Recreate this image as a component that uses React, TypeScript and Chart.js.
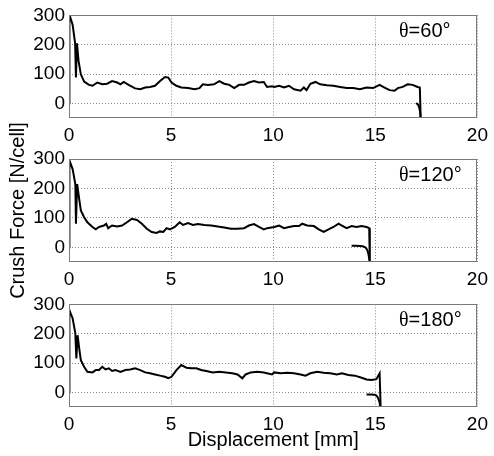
import React, { useEffect, useRef } from "react";
import { Chart, registerables } from "chart.js";

Chart.register(...registerables);

// ---------- data ----------
const xTicks = [0, 5, 10, 15, 20];
const yTicks = [0, 100, 200, 300];
const panelLabels = ["θ=60°", "θ=120°", "θ=180°"];

const p1X = [0, 0.02, 0.05, 0.18, 0.3, 0.34, 0.39, 0.47, 0.58, 0.74, 0.98, 1.15, 1.39, 1.63, 1.87, 2.11, 2.36, 2.52, 2.68, 2.92, 3.24, 3.49, 3.73, 3.97, 4.21, 4.46, 4.7, 4.86, 5.02, 5.26, 5.5, 5.83, 6.15, 6.39, 6.55, 6.8, 7.1, 7.36, 7.6, 7.85, 8.09, 8.33, 8.57, 8.81, 9.06, 9.3, 9.54, 9.7, 9.94, 10.05, 10.29, 10.53, 10.77, 11.02, 11.34, 11.5, 11.63, 11.82, 12.07, 12.3, 12.63, 12.95, 13.28, 13.6, 13.92, 14.24, 14.57, 14.89, 15.21, 15.45, 15.7, 15.94, 16.1, 16.34, 16.58, 16.83, 17.07, 17.18, 17.22];
const p1Y = [0, 280, 296, 267, 205, 88, 205, 144, 99, 74, 63, 60, 71, 65, 67, 76, 71, 65, 73, 63, 51, 48, 54, 56, 60, 76, 90, 88, 71, 60, 54, 52, 48, 52, 65, 63, 65, 76, 67, 63, 52, 63, 63, 71, 76, 71, 73, 56, 58, 56, 60, 54, 60, 48, 43, 54, 45, 67, 73, 65, 62, 60, 56, 52, 52, 48, 54, 52, 63, 54, 45, 43, 52, 56, 65, 63, 56, 54, -50];
const p1HookX = [17.0, 17.1, 17.18, 17.22];
const p1HookY = [1, -5, -25, -50];

const p2X = [0, 0.02, 0.05, 0.18, 0.31, 0.34, 0.4, 0.5, 0.58, 0.74, 0.9, 1.15, 1.31, 1.47, 1.71, 1.82, 1.92, 2.11, 2.36, 2.6, 2.84, 3.08, 3.33, 3.57, 3.81, 4.05, 4.29, 4.45, 4.62, 4.78, 4.94, 5.18, 5.42, 5.58, 5.83, 6.07, 6.31, 6.63, 6.96, 7.28, 7.6, 7.93, 8.25, 8.57, 8.81, 9.06, 9.3, 9.54, 9.7, 10.05, 10.29, 10.53, 10.77, 11.02, 11.26, 11.42, 11.66, 11.99, 12.23, 12.47, 12.71, 12.95, 13.2, 13.36, 13.6, 13.84, 14.08, 14.32, 14.57, 14.7, 14.73];
const p2Y = [0, 280, 290, 265, 215, 80, 215, 164, 125, 102, 85, 69, 61, 69, 74, 80, 65, 74, 71, 74, 85, 97, 93, 80, 63, 52, 49, 54, 52, 65, 61, 69, 85, 76, 82, 76, 79, 76, 74, 71, 67, 63, 63, 65, 74, 79, 69, 61, 65, 69, 74, 65, 69, 72, 72, 80, 74, 72, 61, 52, 61, 69, 80, 74, 65, 72, 69, 72, 69, 65, -50];
const p2HookX = [13.84, 14.3, 14.5, 14.62, 14.68, 14.72];
const p2HookY = [5, 4, 0, -12, -30, -50];

const p3X = [0, 0.02, 0.05, 0.18, 0.31, 0.36, 0.42, 0.5, 0.58, 0.74, 0.9, 1.15, 1.31, 1.47, 1.63, 1.79, 1.95, 2.11, 2.28, 2.52, 2.76, 3.0, 3.24, 3.49, 3.73, 3.97, 4.21, 4.46, 4.7, 4.86, 5.02, 5.26, 5.5, 5.75, 5.99, 6.23, 6.47, 6.72, 7.04, 7.36, 7.68, 8.0, 8.25, 8.49, 8.65, 8.9, 9.22, 9.54, 9.94, 10.05, 10.37, 10.69, 11.02, 11.34, 11.58, 11.82, 12.15, 12.47, 12.79, 13.12, 13.36, 13.68, 14.0, 14.33, 14.57, 14.81, 15.05, 15.21, 15.26];
const p3Y = [0, 265, 275, 252, 201, 116, 195, 150, 110, 87, 70, 68, 76, 76, 87, 78, 82, 73, 76, 70, 76, 78, 82, 76, 68, 65, 61, 57, 53, 48, 53, 76, 93, 84, 82, 82, 76, 73, 68, 70, 68, 65, 61, 48, 61, 68, 70, 68, 61, 68, 65, 67, 65, 61, 57, 65, 70, 67, 65, 61, 65, 59, 57, 50, 44, 42, 45, 65, -50];
const p3HookX = [14.57, 14.97, 15.1, 15.2, 15.24];
const p3HookY = [-7, -8, -15, -32, -50];

const panels = [
  { x: p1X, y: p1Y, hx: p1HookX, hy: p1HookY },
  { x: p2X, y: p2Y, hx: p2HookX, hy: p2HookY },
  { x: p3X, y: p3Y, hx: p3HookX, hy: p3HookY },
];

const yTitle = "Crush Force [N/cell]";
const xTitle = "Displacement [mm]";

// ---------- layout ----------
const FONT = "'Liberation Sans', Arial, sans-serif";
const FS = 19;
const FT = 20;
const W = 494;
const H = 456;
const canvasLayout = [
  { top: 0, height: 144, padTop: 15, padBottom: 0, xAxisH: 26 },
  { top: 0, height: H, padTop: 159, padBottom: 168, xAxisH: 26 },
  { top: 289, height: 167, padTop: 15, padBottom: 0, xAxisH: 49 },
];

const toPts = (xs: number[], ys: number[]) => xs.map((x, i) => ({ x, y: ys[i] }));

const framePlugin = {
  id: "frameAndLabel",
  afterDraw(chart: any, _args: any, opts: any) {
    const { ctx, chartArea: a } = chart;
    ctx.save();
    ctx.strokeStyle = "#7a7a7a";
    ctx.lineWidth = 1;
    ctx.setLineDash([]);
    ctx.strokeRect(Math.round(a.left) + 0.5, Math.round(a.top) + 0.5, Math.round(a.right - a.left) - 1, Math.round(a.bottom - a.top) - 1);
    const label: string = opts.label || "";
    const x0 = a.left + 330;
    const y0 = a.top + 22;
    ctx.fillStyle = "#000";
    ctx.textBaseline = "alphabetic";
    ctx.textAlign = "left";
    ctx.font = `${FT}px 'Liberation Serif', serif`;
    const first = label.slice(0, 1);
    ctx.fillText(first, x0, y0);
    const w = ctx.measureText(first).width;
    ctx.font = `${FT}px ${FONT}`;
    ctx.fillText(label.slice(1), x0 + w, y0);
    ctx.restore();
  },
};

function Panel({ idx }: { idx: number }) {
  const ref = useRef<HTMLCanvasElement>(null);
  const L = canvasLayout[idx];
  useEffect(() => {
    const p = panels[idx];
    const isLast = idx === 2;
    const isMid = idx === 1;
    const chart = new Chart(ref.current!, {
      type: "line",
      data: {
        datasets: [
          {
            data: toPts(p.x, p.y),
            borderColor: "#000",
            borderWidth: 2,
            pointRadius: 0,
            tension: 0,
            fill: false,
          },
          {
            data: toPts(p.hx, p.hy),
            borderColor: "#000",
            borderWidth: 2,
            pointRadius: 0,
            tension: 0.3,
            fill: false,
          },
        ],
      },
      options: {
        animation: false,
        responsive: false,
        events: [],
        layout: { padding: { top: L.padTop, right: 12, left: 0, bottom: L.padBottom } },
        plugins: {
          legend: { display: false },
          tooltip: { enabled: false },
          frameAndLabel: { label: panelLabels[idx] },
        } as any,
        scales: {
          x: {
            type: "linear",
            min: 0,
            max: 20,
            afterBuildTicks: (s: any) => {
              s.ticks = xTicks.map((v) => ({ value: v }));
            },
            afterFit: (s: any) => {
              s.height = L.xAxisH;
            },
            grid: { color: "#8c8c8c", lineWidth: 1, drawTicks: false },
            border: { display: false, dash: [1, 2] },
            ticks: { color: "#000", font: { family: FONT, size: FS }, padding: 6, maxRotation: 0 },
            title: {
              display: isLast,
              text: xTitle,
              color: "#000",
              font: { family: FONT, size: FT },
              padding: { top: 0, bottom: 4 },
            },
          },
          y: {
            type: "linear",
            min: -50,
            max: 300,
            afterBuildTicks: (s: any) => {
              s.ticks = yTicks.map((v) => ({ value: v }));
            },
            afterFit: (s: any) => {
              s.width = 69;
            },
            grid: { color: "#8c8c8c", lineWidth: 1, drawTicks: false },
            border: { display: false, dash: [1, 2] },
            ticks: { color: "#000", font: { family: FONT, size: FS }, padding: 4 },
            title: {
              display: isMid,
              text: yTitle,
              color: "#000",
              font: { family: FONT, size: FT },
              padding: { top: 6, bottom: 0 },
            },
          },
        },
      },
      plugins: [framePlugin],
    } as any);
    return () => chart.destroy();
  }, [idx]);
  return (
    <canvas
      ref={ref}
      width={W}
      height={L.height}
      style={{ position: "absolute", left: 0, top: L.top, width: W, height: L.height }}
    />
  );
}

export default function App() {
  return (
    <div style={{ position: "absolute", left: 0, top: 0, width: W, height: H, background: "#fff" }}>
      <Panel idx={0} />
      <Panel idx={2} />
      <Panel idx={1} />
    </div>
  );
}
